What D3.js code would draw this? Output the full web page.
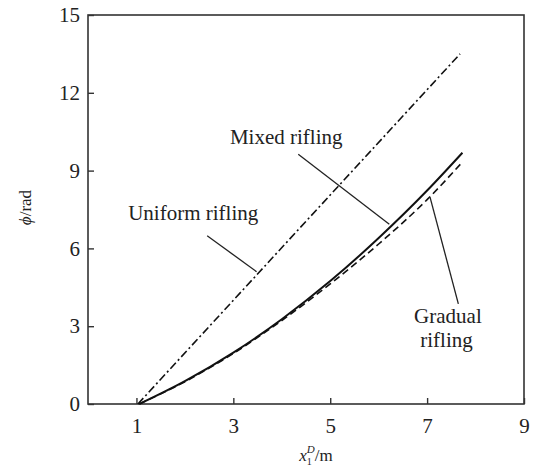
<!DOCTYPE html>
<html>
<head>
<meta charset="utf-8">
<script src="https://cdn.jsdelivr.net/npm/d3@7/dist/d3.min.js"></script>
<style>
  body { margin: 0; background: #fff; }
  svg text { font-family: "Liberation Serif", "Times New Roman", serif; fill: #222; }
</style>
</head>
<body>
<svg id="chart" width="533" height="470"></svg>
<script>
// Rotation angle phi (rad) against travel x (m) for three rifling types
const xTicks = [1, 3, 5, 7, 9];
const yTicks = [0, 3, 6, 9, 12, 15];

const uniformX = [1.03, 7.68];
const uniformY = [0, 13.5];

const mixedX = [1.06, 2, 3, 4, 5, 6, 7, 7.73];
const mixedY = [0, 0.88, 1.98, 3.27, 4.74, 6.40, 8.23, 9.69];

const gradualX = [1.06, 2, 3, 4, 5, 6, 7, 7.71];
const gradualY = [0, 0.86, 1.95, 3.22, 4.63, 6.17, 7.88, 9.29];

const margin = { top: 15, right: 9, bottom: 66, left: 88 };
const W = 533, H = 470;
const iw = W - margin.left - margin.right;
const ih = H - margin.top - margin.bottom;

const svg = d3.select("#chart");
const g = svg.append("g").attr("transform", `translate(${margin.left},${margin.top})`);

const x = d3.scaleLinear().domain([0, 9]).range([0, iw]);
const y = d3.scaleLinear().domain([0, 15]).range([ih, 0]);

// frame
g.append("rect").attr("x", 0).attr("y", 0).attr("width", iw).attr("height", ih)
  .attr("fill", "none").attr("stroke", "#333").attr("stroke-width", 1.6);

// axes with inward ticks
const xAxis = g.append("g").attr("transform", `translate(0,${ih})`)
  .call(d3.axisBottom(x).tickValues(xTicks).tickSizeInner(-6).tickSizeOuter(0).tickPadding(14));
const yAxis = g.append("g")
  .call(d3.axisLeft(y).tickValues(yTicks).tickSizeInner(-6).tickSizeOuter(0).tickPadding(8));
[xAxis, yAxis].forEach(a => {
  a.select(".domain").remove();
  a.selectAll(".tick line").attr("stroke", "#333").attr("stroke-width", 1.4);
  a.selectAll(".tick text").attr("font-size", 21).attr("fill", "#222")
    .style("font-family", "'Liberation Serif', serif");
});
xAxis.selectAll(".tick text").attr("dy", "0.71em");

const line = d3.line().x(d => x(d[0])).y(d => y(d[1]));

// uniform rifling (dash-dot)
g.append("path").datum(d3.zip(uniformX, uniformY)).attr("d", line)
  .attr("fill", "none").attr("stroke", "#111").attr("stroke-width", 1.6)
  .attr("stroke-dasharray", "8,3,2,3");

// gradual rifling (dashed)
g.append("path").datum(d3.zip(gradualX, gradualY)).attr("d", line.curve(d3.curveMonotoneX))
  .attr("fill", "none").attr("stroke", "#111").attr("stroke-width", 1.6)
  .attr("stroke-dasharray", "7,4");

// mixed rifling (solid)
g.append("path").datum(d3.zip(mixedX, mixedY)).attr("d", line.curve(d3.curveMonotoneX))
  .attr("fill", "none").attr("stroke", "#111").attr("stroke-width", 2);

// callout labels and leader lines
const leaders = [
  { x1: 2.46, y1: 6.49, x2: 3.48, y2: 5.10 },
  { x1: 4.34, y1: 9.63, x2: 6.22, y2: 6.93 },
  { x1: 7.06, y1: 7.98, x2: 7.645, y2: 3.86 }
];
g.selectAll(".leader").data(leaders).enter().append("line")
  .attr("x1", d => x(d.x1)).attr("y1", d => y(d.y1))
  .attr("x2", d => x(d.x2)).attr("y2", d => y(d.y2))
  .attr("stroke", "#222").attr("stroke-width", 1.3);

const labels = [
  { text: "Uniform rifling", x: 0.83, y: 7.10, anchor: "start" },
  { text: "Mixed rifling", x: 2.93, y: 10.03, anchor: "start" },
  { text: "Gradual", x: 7.43, y: 3.12, anchor: "middle" },
  { text: "rifling", x: 7.40, y: 2.20, anchor: "middle" }
];
g.selectAll(".lbl").data(labels).enter().append("text")
  .attr("x", d => x(d.x)).attr("y", d => y(d.y))
  .attr("text-anchor", d => d.anchor).attr("font-size", 21)
  .text(d => d.text);

// axis titles
const yt = svg.append("text")
  .attr("transform", `translate(31,${margin.top + ih / 2 - 2}) rotate(-90)`)
  .attr("text-anchor", "middle").attr("font-size", 17);
yt.append("tspan").attr("font-style", "italic").text("ϕ");
yt.append("tspan").text("/rad");

const xt = svg.append("text")
  .attr("x", 316).attr("y", 461)
  .attr("text-anchor", "middle").attr("font-size", 17);
xt.append("tspan").attr("font-style", "italic").text("x");
xt.append("tspan").attr("font-size", 10).attr("dy", 4).text("1");
xt.append("tspan").attr("font-size", 11).attr("font-style", "italic").attr("dx", -5).attr("dy", -12).text("D");
xt.append("tspan").attr("dy", 8).text("/m");
</script>
</body>
</html>
